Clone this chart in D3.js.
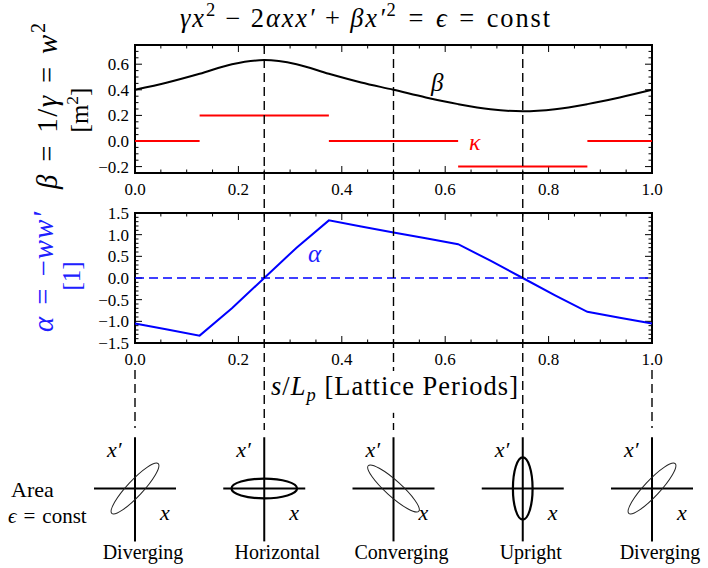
<!DOCTYPE html>
<html>
<head>
<meta charset="utf-8">
<script src="https://cdn.jsdelivr.net/npm/d3@7"></script>
<style>
  body { margin: 0; background: #fff; }
  svg text { font-family: "Liberation Serif", "Times New Roman", serif; white-space: pre; }
</style>
</head>
<body>
<div id="wrapper"></div>
<script>
// lattice position (fraction of a period) and Twiss functions
const sPos = [0, 0.0625, 0.125, 0.1875, 0.25, 0.3125, 0.375, 0.4375, 0.5,
              0.5625, 0.625, 0.6875, 0.75, 0.8125, 0.875, 0.9375, 1];
const betaValues = [0.40, 0.457, 0.525, 0.60, 0.632, 0.60, 0.525, 0.457, 0.40,
                    0.34, 0.288, 0.248, 0.232, 0.248, 0.288, 0.34, 0.40];
const alphaValues = [-1.05, -1.19, -1.33, -0.70, 0.0, 0.70, 1.33, 1.19, 1.05,
                     0.915, 0.78, 0.40, 0.0, -0.40, -0.78, -0.915, -1.05];

// focusing strength kappa, piecewise constant
const kappaStart = [0, 0.125, 0.375, 0.625, 0.875];
const kappaEnd = [0.125, 0.375, 0.625, 0.875, 1];
const kappaValues = [0, 0.2, 0, -0.2, 0];

// dashed marker lines and phase-space sketches
const markerS = [0.25, 0.5, 0.75];
const sketchS = [0, 0.25, 0.5, 0.75, 1];
const sketchNames = ["Diverging", "Horizontal", "Converging", "Upright", "Diverging"];
const sketchMajor = [0.83, 0.80, 0.83, 0.76, 0.83];
const sketchMinor = [0.19, 0.24, 0.19, 0.24, 0.19];
const sketchTilt = [47, 0, -42, 90, 47];

// ticks
const xTicks = [0, 0.2, 0.4, 0.6, 0.8, 1.0];
const betaTicks = [-0.2, 0.0, 0.2, 0.4, 0.6];
const alphaTicks = [-1.5, -1.0, -0.5, 0.0, 0.5, 1.0, 1.5];

const W = 708, H = 568;
const left = 135, right = 652;
const top1 = 45, bot1 = 173;
const top2 = 213, bot2 = 343;
const fmt = d3.format(".1f");
const minus = s => s.replace("-", "\u2212");
const REL = "\u2004=\u2004";   // relation spacing
const BIN = op => "\u2005" + op + "\u2005";

const svg = d3.select("#wrapper").append("svg")
    .attr("width", W).attr("height", H)
    .attr("font-family", "Liberation Serif, serif");

const xScale = d3.scaleLinear().domain([0, 1]).range([left, right]);
const betaScale = d3.scaleLinear().domain([-0.25, 0.75]).range([bot1, top1]);
const alphaScale = d3.scaleLinear().domain([-1.5, 1.5]).range([bot2, top2]);

// rich text: parts {t, i, sup, sub}
function rich(sel, parts, size) {
    let shift = 0;
    parts.forEach(p => {
        const target = p.sup ? -0.42 * size : p.sub ? 0.22 * size : 0;
        sel.append("tspan")
            .attr("dy", target - shift)
            .attr("font-size", (p.sup || p.sub) ? size * 0.7 : size)
            .attr("font-style", p.i ? "italic" : "normal")
            .text(p.t);
        shift = target;
    });
    return sel;
}

// grow the font (up to maxScale) toward a target width, then stretch spacing for the rest
function fit(sel, target, maxScale) {
    const w = sel.node().getComputedTextLength();
    const k = Math.min(target / w, maxScale);
    sel.selectAll("tspan").each(function() {
        const s = d3.select(this);
        s.attr("font-size", +s.attr("font-size") * k).attr("dy", +s.attr("dy") * k);
    });
    if (target / w > maxScale) sel.attr("textLength", target).attr("lengthAdjust", "spacing");
    return sel;
}

function frame(yScale, yTop, yBot, yMajor, yMinorStep, yLo, yHi) {
    const g = svg.append("g");
    d3.range(0, 1.0001, 0.05).forEach(v => {
        const major = Math.abs(v / 0.2 - Math.round(v / 0.2)) < 1e-6;
        const len = major ? 7 : 3.5;
        const x = xScale(v);
        g.append("line").attr("x1", x).attr("x2", x).attr("y1", yBot).attr("y2", yBot - len)
            .attr("stroke", "#000").attr("stroke-width", 1);
        g.append("line").attr("x1", x).attr("x2", x).attr("y1", yTop).attr("y2", yTop + len)
            .attr("stroke", "#000").attr("stroke-width", 1);
    });
    d3.range(yLo, yHi + 1e-6, yMinorStep).forEach(v => {
        const major = yMajor.some(m => Math.abs(m - v) < 1e-6);
        const len = major ? 7 : 3.5;
        const y = yScale(v);
        if (y < yTop - 0.5 || y > yBot + 0.5) return;
        g.append("line").attr("x1", left).attr("x2", left + len).attr("y1", y).attr("y2", y)
            .attr("stroke", "#000").attr("stroke-width", 1);
        g.append("line").attr("x1", right).attr("x2", right - len).attr("y1", y).attr("y2", y)
            .attr("stroke", "#000").attr("stroke-width", 1);
    });
    g.append("rect")
        .attr("x", left).attr("y", yTop)
        .attr("width", right - left).attr("height", yBot - yTop)
        .attr("fill", "none").attr("stroke", "#000").attr("stroke-width", 2);
    g.selectAll(".xl").data(xTicks).enter().append("text")
        .attr("x", d => xScale(d)).attr("y", yBot + 22)
        .attr("text-anchor", "middle").attr("font-size", 17)
        .text(d => fmt(d));
    g.selectAll(".yl").data(yMajor).enter().append("text")
        .attr("x", left - 6).attr("y", d => yScale(d) + 6)
        .attr("text-anchor", "end").attr("font-size", 17)
        .text(d => minus(fmt(d)));
}

frame(betaScale, top1, bot1, betaTicks, 0.05, -0.25, 0.75);
frame(alphaScale, top2, bot2, alphaTicks, 0.1, -1.5, 1.5);

// beta curve
const betaLine = d3.line()
    .x((d, i) => xScale(sPos[i]))
    .y(d => betaScale(d))
    .curve(d3.curveCatmullRom);
svg.append("path").attr("d", betaLine(betaValues))
    .attr("fill", "none").attr("stroke", "#000").attr("stroke-width", 2);

// kappa segments
kappaValues.forEach((k, i) => {
    svg.append("line")
        .attr("x1", xScale(kappaStart[i])).attr("x2", xScale(kappaEnd[i]))
        .attr("y1", betaScale(k)).attr("y2", betaScale(k))
        .attr("stroke", "#ff0000").attr("stroke-width", 2);
});

// alpha curve + zero line
svg.append("line")
    .attr("x1", left).attr("x2", right)
    .attr("y1", alphaScale(0)).attr("y2", alphaScale(0))
    .attr("stroke", "#0000ff").attr("stroke-width", 1.6).attr("stroke-dasharray", "9,5");
const alphaLine = d3.line()
    .x((d, i) => xScale(sPos[i]))
    .y(d => alphaScale(d));
svg.append("path").attr("d", alphaLine(alphaValues))
    .attr("fill", "none").attr("stroke", "#0000ff").attr("stroke-width", 2);

// in-plot labels
rich(svg.append("text").attr("x", 431).attr("y", 91), [{t: "β", i: true}], 25);
rich(svg.append("text").attr("x", 469).attr("y", 150).attr("fill", "#ff0000"), [{t: "κ", i: true}], 24);
rich(svg.append("text").attr("x", 308).attr("y", 262).attr("fill", "#2020ff"), [{t: "α", i: true}], 25);

// dashed markers
markerS.forEach(s => {
    svg.append("line")
        .attr("x1", xScale(s)).attr("x2", xScale(s))
        .attr("y1", top1).attr("y2", 430)
        .attr("stroke", "#000").attr("stroke-width", 1.4).attr("stroke-dasharray", "9,5");
});
[0, 1].forEach(s => {
    svg.append("line")
        .attr("x1", xScale(s)).attr("x2", xScale(s))
        .attr("y1", 370).attr("y2", 428)
        .attr("stroke", "#000").attr("stroke-width", 1.4).attr("stroke-dasharray", "9,5");
});

// title
fit(rich(svg.append("text").attr("x", 365).attr("y", 27).attr("text-anchor", "middle"),
    [{t: "γx", i: true}, {t: "2", sup: true}, {t: BIN("−") + "2"}, {t: "αxx′", i: true}, {t: BIN("+")},
     {t: "βx′", i: true}, {t: "2", sup: true}, {t: REL}, {t: "ϵ", i: true}, {t: REL + "const"}], 23), 370, 1.15);

// y labels
function yLabel(x, y, len, parts, size, color) {
    const t = svg.append("text")
        .attr("transform", `translate(${x},${y}) rotate(-90)`)
        .attr("text-anchor", "middle").attr("fill", color);
    rich(t, parts, size);
    if (len) fit(t, len, 1.2);
}
yLabel(57, 106, 166, [{t: "β", i: true}, {t: REL + "1/"}, {t: "γ", i: true}, {t: REL}, {t: "w", i: true}, {t: "2", sup: true}], 24, "#000");
yLabel(88, 110, 0, [{t: "[m"}, {t: "2", sup: true}, {t: "]"}], 25, "#000");
yLabel(53, 272, 120, [{t: "α", i: true}, {t: REL + "−"}, {t: "ww′", i: true}], 24, "#2020ff");
yLabel(80, 276, 0, [{t: "[1]"}], 25, "#2020ff");

// x label with white backing so the middle marker stops behind it
const xl = svg.append("g");
const xlBg = xl.append("rect").attr("fill", "#fff");
const xlText = fit(rich(xl.append("text").attr("x", 394.5).attr("y", 395).attr("text-anchor", "middle"),
    [{t: "s", i: true}, {t: "/"}, {t: "L", i: true}, {t: "p", i: true, sub: true}, {t: " [Lattice Periods]"}], 23), 247, 1.15);
const bb = xlText.node().getBBox();
xlBg.attr("x", bb.x + 14).attr("y", bb.y).attr("width", bb.width - 28).attr("height", bb.height + 8);

// phase-space sketches
const phase = d3.scaleLinear().domain([-1, 1]).range([-41, 41]);
const cy = 488.5;
sketchS.forEach((s, i) => {
    const cx = xScale(s);
    const g = svg.append("g").attr("transform", `translate(${cx},${cy})`);
    g.append("line").attr("x1", phase(-1)).attr("x2", phase(1)).attr("y1", 0).attr("y2", 0)
        .attr("stroke", "#000").attr("stroke-width", 2);
    g.append("line").attr("x1", 0).attr("x2", 0).attr("y1", -phase(1.25)).attr("y2", phase(1.29))
        .attr("stroke", "#000").attr("stroke-width", 2);
    const upright = sketchTilt[i] % 90 === 0;
    g.append("ellipse")
        .attr("rx", phase(sketchMajor[i]) - phase(0))
        .attr("ry", phase(sketchMinor[i]) - phase(0))
        .attr("transform", `rotate(${-sketchTilt[i]})`)
        .attr("fill", "none")
        .attr("stroke", upright ? "#000" : "#222")
        .attr("stroke-width", upright ? 2.2 : 1);
    rich(g.append("text").attr("x", -28).attr("y", -32), [{t: "x′", i: true}], 22);
    rich(g.append("text").attr("x", 25).attr("y", 31), [{t: "x", i: true}], 22);
    g.append("text").attr("x", i === 1 ? 13 : 8).attr("y", 70)
        .attr("text-anchor", "middle").attr("font-size", 20)
        .text(sketchNames[i]);
});

svg.append("text").attr("x", 11).attr("y", 497).attr("font-size", 22).text("Area");
rich(svg.append("text").attr("x", 8).attr("y", 523), [{t: "ϵ", i: true}, {t: REL + "const"}], 21);
</script>
</body>
</html>
